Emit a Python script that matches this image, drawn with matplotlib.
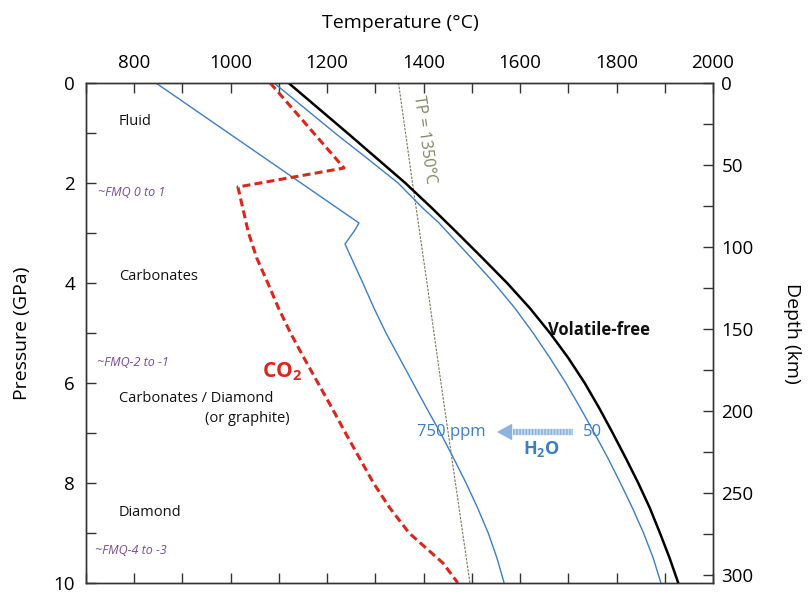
import matplotlib
matplotlib.use("Agg")
import matplotlib.pyplot as plt
from matplotlib.ticker import MultipleLocator

plt.rcParams['font.family'] = ['Open Sans', 'DejaVu Sans']
plt.rcParams['mathtext.fontset'] = 'custom'
plt.rcParams['mathtext.rm'] = 'Open Sans'
plt.rcParams['mathtext.bf'] = 'Open Sans:bold'
plt.rcParams['mathtext.it'] = 'Open Sans:italic'

# ---------------- data ----------------
# Volatile-free solidus
dry_P = [0, 0.5, 1, 1.5, 2, 2.5, 3, 3.5, 4, 4.5, 5, 5.5, 6, 6.5, 7, 7.5, 8, 8.5, 9, 9.5, 10]
dry_T = [1120, 1181, 1242, 1302, 1362, 1417, 1470, 1522, 1573, 1620, 1662, 1700, 1734,
         1764, 1792, 1819, 1845, 1869, 1890, 1910, 1928]

# 50 ppm H2O solidus
h50_P = [0, 0.5, 1, 1.5, 2, 2.5, 2.8, 3, 3.5, 4, 4.5, 5, 5.5, 6, 6.5, 7, 7.5, 8, 8.5, 9, 9.5, 10]
h50_T = [1090, 1153, 1216, 1282, 1347, 1398, 1432, 1451, 1499, 1546, 1589, 1627, 1662,
         1695, 1725, 1754, 1782, 1808, 1833, 1856, 1876, 1892]

# 750 ppm H2O solidus
h750_P = [0, 2.8, 2.95, 3.22, 3.6, 4.0, 4.5, 5, 5.5, 6, 6.5, 7, 7.5, 8, 8.5, 9, 9.5, 10]
h750_T = [845, 1266, 1257, 1237, 1255, 1274, 1297, 1322, 1350, 1378, 1406, 1435, 1462,
          1488, 1512, 1534, 1552, 1567]

# CO2 solidus
co2_P = [0, 1.7, 2.08, 2.5, 3, 3.5, 4, 4.5, 5, 5.5, 6, 6.5, 7, 7.5, 8, 8.5, 9, 9.3, 9.6, 10]
co2_T = [1082, 1235, 1015, 1025, 1037, 1054, 1077, 1099, 1124, 1152, 1181, 1210, 1238,
         1267, 1296, 1330, 1370, 1405, 1440, 1471]

# Mantle adiabat Tp = 1350 C
tp_P = [0, 2, 4, 6, 8, 10]
tp_T = [1348, 1377, 1407, 1436, 1466, 1496]

temp_ticks = [800, 1000, 1200, 1400, 1600, 1800, 2000]
press_ticks = [0, 2, 4, 6, 8, 10]
depth_ticks = [0, 50, 100, 150, 200, 250, 300]

region_labels = ["Fluid", "Carbonates", "Carbonates / Diamond", "(or graphite)", "Diamond"]
fmq_labels = ["~FMQ 0 to 1", "~FMQ-2 to -1", "~FMQ-4 to -3"]

# ---------------- figure ----------------
fig = plt.figure(figsize=(8.08, 5.92), dpi=100)
ax = fig.add_axes([86/808, 1-583/592, 627/808, 500/592])

BLUE = '#3b7ec6'
RED = '#d9271c'
OLIVE = '#7d8660'
PURPLE = '#7a4c9c'
ARROW = '#8cb2de'

ax.plot(tp_T, tp_P, color='#77775a', lw=0.8, ls=(0, (2.2, 1.2)), zorder=2)
ax.plot(h750_T, h750_P, color=BLUE, lw=1.0, zorder=3)
ax.plot(h50_T, h50_P, color=BLUE, lw=1.0, zorder=3)
ax.plot(dry_T, dry_P, color='black', lw=1.8, zorder=4)
ax.plot(co2_T, co2_P, color=RED, lw=2.2, ls=(0, (2.6, 1.4)), zorder=4)

ax.set_xlim(700, 2000)
ax.set_ylim(10, 0)

ax.set_xticks(temp_ticks)
ax.xaxis.set_minor_locator(MultipleLocator(100))
ax.set_yticks(press_ticks)
ax.yaxis.set_minor_locator(MultipleLocator(1))

ax.tick_params(axis='x', which='both', top=True, bottom=True, labeltop=True,
               labelbottom=False, direction='in', length=7, width=1,
               color='#333333', labelsize=13.5, pad=8)
ax.tick_params(axis='y', which='both', left=True, right=False, direction='in',
               length=7, width=1, color='#333333', labelsize=13.5, pad=8)
for s in ax.spines.values():
    s.set_color('#333333')
    s.set_linewidth(1.0)

ax.set_xlabel('Temperature (°C)', fontsize=14)
ax.xaxis.set_label_position('top')
ax.xaxis.set_label_coords(0.5008, 1.11)
ax.set_ylabel('Pressure (GPa)', fontsize=14)
ax.yaxis.set_label_coords(-0.088, 0.5)

ax2 = ax.twinx()
ax2.set_ylim(305, 0)
ax2.set_yticks(depth_ticks)
ax2.yaxis.set_minor_locator(MultipleLocator(25))
ax2.tick_params(axis='y', which='both', direction='in', length=7, width=1,
                color='#333333', labelsize=13.5, pad=6)
ax2.set_ylabel('Depth (km)', fontsize=14, rotation=-90, va='center')
ax2.yaxis.set_label_coords(1.126, 0.5)
for s in ax2.spines.values():
    s.set_color('#333333')
    s.set_linewidth(1.0)

# ---------------- annotations ----------------
txt_kw = dict(fontsize=10.5, color='#111111', ha='left', va='center')
ax.text(768, 0.78, region_labels[0], **txt_kw)
ax.text(768, 3.88, region_labels[1], **txt_kw)
ax.text(768, 6.30, region_labels[2], **txt_kw)
ax.text(947, 6.72, region_labels[3], **txt_kw)
ax.text(768, 8.60, region_labels[4], **txt_kw)

fmq_kw = dict(fontsize=9, color=PURPLE, style='italic', ha='left', va='center')
ax.text(725, 2.20, fmq_labels[0], **fmq_kw)
ax.text(723, 5.60, fmq_labels[1], **fmq_kw)
ax.text(719, 9.36, fmq_labels[2], **fmq_kw)

ax.text(1106, 5.78, r'$\mathbf{CO_2}$', fontsize=15, color=RED, ha='center', va='center')
ax.text(1658, 4.94, 'Volatile-free', fontsize=12, fontweight='bold', color='#111111',
        ha='left', va='center')
ax.text(1401, 1.14, 'TP = 1350°C', fontsize=11.5, color=OLIVE, rotation=-82,
        rotation_mode='anchor', ha='center', va='center')

ax.text(1386, 6.98, '750 ppm', fontsize=12, color=BLUE, ha='left', va='center')
ax.text(1730, 6.98, '50', fontsize=12, color=BLUE, ha='left', va='center')
ax.text(1645, 7.32, r'$\mathbf{H_2O}$', fontsize=13, color=BLUE, ha='center', va='center')

# arrow (striped shaft + head)
ax.plot([1585, 1710], [6.98, 6.98], color='#c5d9f0', lw=4.5, solid_capstyle='butt', zorder=5)
ax.plot([1585, 1710], [6.98, 6.98], color=ARROW, lw=4.5, ls=(0, (0.25, 0.25)),
        dash_capstyle='butt', zorder=6)
ax.annotate('', xy=(1552, 6.98), xytext=(1590, 6.98),
            arrowprops=dict(arrowstyle='-|>,head_length=1.1,head_width=0.6',
                            color=ARROW, lw=0.01, shrinkA=0, shrinkB=0), zorder=7)

fig.savefig('out.png', dpi=100)
